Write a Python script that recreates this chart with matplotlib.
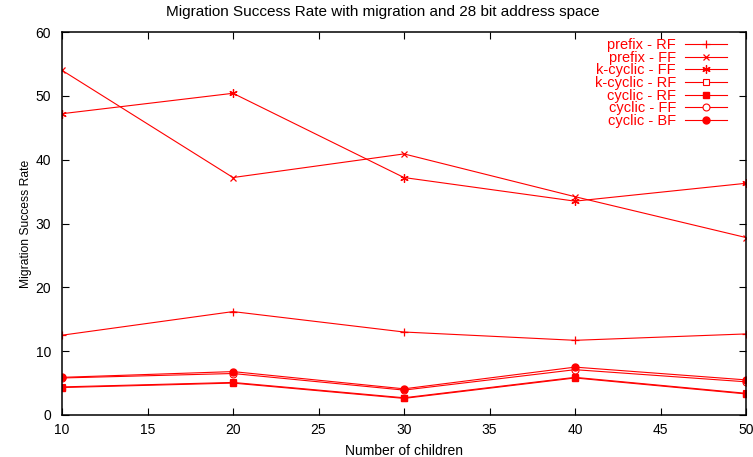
import matplotlib
matplotlib.use('Agg')
import matplotlib.pyplot as plt

plt.rcParams['font.family'] = ['Liberation Sans', 'DejaVu Sans']

# Number of children on the x axis
children = [10, 20, 30, 40, 50]

# Migration success rate per scheme
prefix_rf = [12.5, 16.2, 13.0, 11.7, 12.7]
prefix_ff = [54.0, 37.2, 40.9, 34.2, 27.8]
kcyclic_ff = [47.2, 50.4, 37.2, 33.5, 36.3]
kcyclic_rf = [4.4, 5.1, 2.7, 5.9, 3.4]
cyclic_rf = [4.3, 5.0, 2.6, 5.8, 3.3]
cyclic_ff = [5.8, 6.5, 3.9, 7.1, 5.2]
cyclic_bf = [5.9, 6.8, 4.1, 7.5, 5.5]

series = [
    ('prefix - RF', prefix_rf, dict(marker='+', ms=6, mew=0.9)),
    ('prefix - FF', prefix_ff, dict(marker='x', ms=5, mew=0.9)),
    ('k-cyclic - FF', kcyclic_ff, dict(marker=(6, 2, 0), ms=6, mew=0.9)),
    ('k-cyclic - RF', kcyclic_rf, dict(marker='s', ms=5, mfc='white', mew=0.8)),
    ('cyclic - RF', cyclic_rf, dict(marker='s', ms=5)),
    ('cyclic - FF', cyclic_ff, dict(marker='o', ms=5, mfc='white', mew=0.8)),
    ('cyclic - BF', cyclic_bf, dict(marker='o', ms=5)),
]

fig = plt.figure(figsize=(7.53, 4.57), dpi=100)
ax = fig.add_axes([62 / 753, 42 / 457, 684 / 753, 383 / 457])

for label, vals, style in series:
    ax.plot(children, vals, color='red', lw=0.8, mec='red', label=label, **style)

ax.set_xlim(10, 50)
ax.set_ylim(0, 60)
ax.set_xticks(range(10, 51, 5))
ax.set_yticks(range(0, 61, 10))
ax.tick_params(direction='in', length=5, width=0.8, top=True, right=True,
               labelsize=10)
ax.tick_params(axis='y', pad=8)
ax.tick_params(axis='x', pad=6)
for s in ax.spines.values():
    s.set_linewidth(1.1)

fig.text(383 / 753, 1 - 12 / 457,
         'Migration Success Rate with migration and 28 bit address space',
         fontsize=11, ha='center', va='center')
ax.set_xlabel('Number of children', fontsize=10, labelpad=5)
ax.set_ylabel('Migration Success Rate', fontsize=8.7, labelpad=2)

ax.legend(loc='upper right', bbox_to_anchor=((727 - 62) / 684, (415 - 38) / 383),
          frameon=False, markerfirst=False, labelcolor='red', fontsize=10.5,
          handlelength=2.9, handletextpad=0.6, labelspacing=-0.09,
          borderaxespad=0, borderpad=0)

fig.savefig('out.png', dpi=100)
